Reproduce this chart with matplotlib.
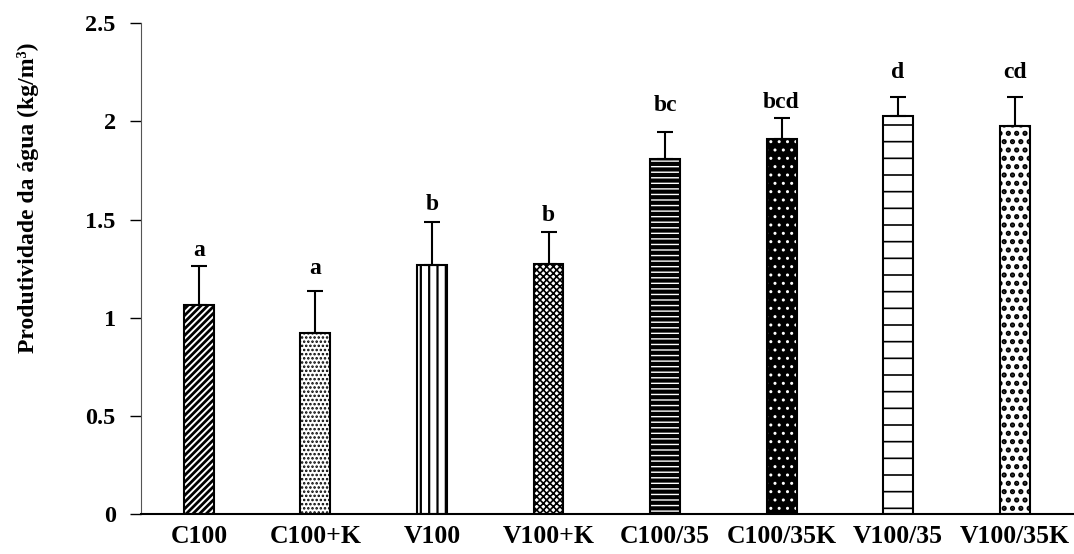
import matplotlib.pyplot as plt
import numpy as np

plt.rcParams["font.family"] = ["Liberation Serif", "DejaVu Serif"]
plt.rcParams["font.weight"] = "bold"

labels = ["C100", "C100+K", "V100", "V100+K", "C100/35", "C100/35K", "V100/35", "V100/35K"]
means = [1.065, 0.92, 1.27, 1.275, 1.81, 1.91, 2.03, 1.975]
errors = [0.2, 0.215, 0.22, 0.16, 0.135, 0.11, 0.093, 0.148]
letters = ["a", "a", "b", "b", "bc", "bcd", "d", "cd"]
letter_gap = [0.05, 0.09, 0.06, 0.06, 0.11, 0.05, 0.1, 0.1]
hatches = ["/////", "....", "||", "xxxxx", "---", "..", "-", ".."]
hatch_lw = [2.0, 1.2, 1.6, 1.2, 3.0, 1.0, 1.2, 2.5]

fig = plt.figure(figsize=(10.74, 5.54), dpi=100)
ax = fig.add_axes([0.131, 0.072, 0.869, 0.886])

x = np.arange(len(labels))
w = 0.257
for i in range(len(labels)):
    with plt.rc_context({"hatch.linewidth": hatch_lw[i]}):
        if i == 5:
            # black bar with white dots
            ax.bar(x[i], means[i], w, color="black", edgecolor="white", hatch=hatches[i], linewidth=0)
            ax.bar(x[i], means[i], w, fill=False, edgecolor="black", linewidth=1.5)
        else:
            ax.bar(x[i], means[i], w, color="white", edgecolor="black", hatch=hatches[i], linewidth=1.5)

ax.errorbar(x, means, yerr=[np.zeros(len(means)), errors], fmt="none", ecolor="black",
            elinewidth=1.5, capsize=6, capthick=1.5)

for i in range(len(labels)):
    ax.text(x[i], means[i] + errors[i] + letter_gap[i], letters[i], ha="center", va="baseline",
            fontsize=17, fontweight="bold")

ax.set_xlim(-0.5, 7.51)
ax.set_ylim(0, 2.5)
ax.set_yticks([0, 0.5, 1, 1.5, 2, 2.5])
ax.set_yticklabels(["0", "0.5", "1", "1.5", "2", "2.5"])
ax.set_xticks(x)
ax.set_xticklabels(labels)
ax.tick_params(axis="x", length=0, labelsize=18.5, pad=8)
ax.tick_params(axis="y", direction="out", length=8, labelsize=17.5, width=1, colors="black", pad=10)
ax.set_ylabel("Produtividade da água (kg/m³)", fontsize=17, fontweight="bold")
ax.yaxis.set_label_coords(-0.109, 0.645)
for s in ["top", "right"]:
    ax.spines[s].set_visible(False)
ax.spines["left"].set_color("#555555")
ax.spines["bottom"].set_color("black")
ax.spines["bottom"].set_linewidth(1.5)

fig.savefig("out.png", dpi=100)
